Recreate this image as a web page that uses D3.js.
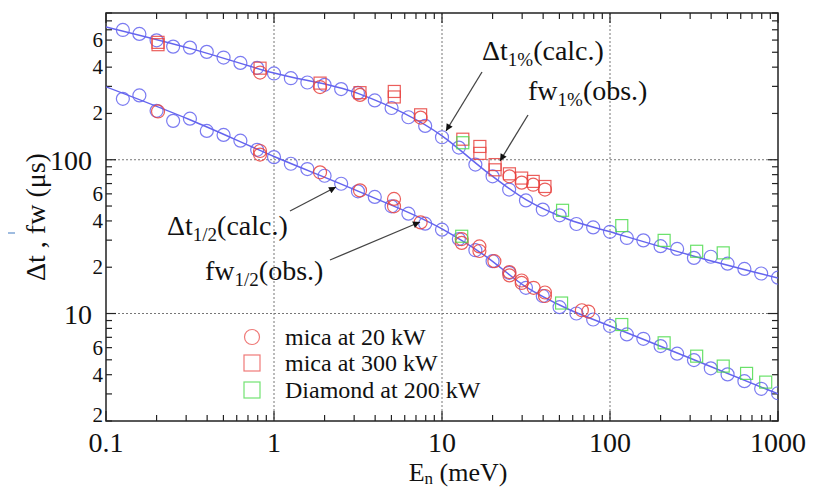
<!DOCTYPE html>
<html>
<head>
<meta charset="utf-8">
<script src="https://cdn.jsdelivr.net/npm/d3@7"></script>
<style>
  body { margin: 0; background: #fff; }
  svg { display: block; }
</style>
</head>
<body>
<div id="chart"></div>
<script>
// calculated points, every 0.1 decade (meV)
const energy = [0.126, 0.158, 0.2, 0.251, 0.316, 0.398, 0.501, 0.631, 0.794, 1,
  1.26, 1.58, 2, 2.51, 3.16, 3.98, 5.01, 6.31, 7.94, 10,
  12.6, 15.8, 20, 25.1, 31.6, 39.8, 50.1, 63.1, 79.4, 100,
  126, 158, 200, 251, 316, 398, 501, 631, 794, 1000];
const dt1pct = [698, 658, 598, 544, 536, 503, 462, 426, 396, 364,
  339, 318, 307, 288, 272, 243, 217, 189, 166, 140,
  120, 93, 78, 64, 54.4, 47.4, 43.5, 38.2, 36.3, 34.0,
  31.0, 29.9, 27.4, 26.3, 23.0, 23.4, 21.1, 19.5, 18.2, 17.1];
const dtHalf = [249, 262, 208, 179, 185, 154, 145, 133, 116, 104,
  94.2, 87.0, 78.7, 69.8, 62.3, 57.3, 49.8, 44.6, 38.4, 35.1,
  30.5, 25.8, 21.9, 18.4, 14.7, 13.0, 11.0, 10.0, 9.14, 8.3,
  7.31, 6.85, 6.14, 5.48, 4.98, 4.40, 4.02, 3.63, 3.24, 3.03];

// smooth calc curves
const curveE     = [0.1, 0.316, 1, 3.16, 10, 17.8, 31.6, 56.2, 100, 316, 1000];
const curve1pct  = [731, 530, 366, 270, 143, 86, 55, 41, 34, 23.6, 17];
const curveHalf  = [298, 182, 105, 62.5, 35.5, 24, 14.9, 10.7, 8.3, 5.0, 3.0];

// observed
const mica20E = [0.826, 1.88, 3.25, 7.46, 25.2, 29.8, 34.9, 41,
  0.204, 0.826, 0.826, 1.88, 3.25, 5.18, 5.18, 7.46, 13.1, 13.1, 16.7, 16.7,
  20.5, 25.2, 25.2, 29.8, 29.8, 35.1, 41, 41, 68, 74.3];
const mica20V = [369, 297, 264, 188, 78, 71, 68.8, 64,
  206, 114, 108, 82.8, 63.2, 55.6, 49.8, 39.1, 30.5, 28.8, 27.3, 25.5,
  21.9, 18.6, 17.7, 16.4, 15.8, 14.7, 13.7, 13.0, 10.5, 10.3];
const mica300E = [0.204, 0.204, 0.826, 1.88, 3.25, 5.2, 5.2, 7.46, 13.3,
  16.8, 16.8, 20.7, 20.7, 25.2, 29.8, 34.9, 41];
const mica300V = [580, 560, 394, 315, 273, 278, 256, 196, 136,
  122, 110, 93, 86, 81, 76, 72.3, 67];
const diamondE = [13.3, 52.2, 117.5, 210, 328, 472,
  13.1, 51.5, 117.5, 210, 328, 472, 650, 845];
const diamondV = [129, 46.9, 37.3, 29.9, 25.4, 24.8,
  31.8, 11.7, 8.48, 6.45, 5.28, 4.55, 4.08, 3.58];

const legendLabels = ["mica at 20 kW", "mica at 300 kW", "Diamond at 200 kW"];
const xLabels = [0.1, 1, 10, 100, 1000];

const width = 830, height = 489;
const margin = { top: 13, right: 52, bottom: 68, left: 106 };
const iw = width - margin.left - margin.right;
const ih = height - margin.top - margin.bottom;

const blue = "#6464ee", red = "#e8423e", green = "#4fdc4f";
const serif = "'Liberation Serif', 'Times New Roman', Times, 'DejaVu Serif', serif";

const svg = d3.select("#chart").append("svg")
  .attr("width", width).attr("height", height)
  .attr("font-family", serif)
  .style("font-family", serif);

const x = d3.scaleLog().domain([0.1, 1000]).range([0, iw]);
const y = d3.scaleLog().domain([2, 900]).range([ih, 0]);

const g = svg.append("g").attr("transform", `translate(${margin.left},${margin.top})`);

const defs = svg.append("defs");
defs.append("clipPath").attr("id", "clip")
  .append("rect").attr("width", iw).attr("height", ih);

// dotted grid at decades
const lg = v => Math.abs(Math.log10(v) - Math.round(Math.log10(v))) < 1e-6;
g.selectAll(".gx").data([1, 10, 100]).join("line")
  .attr("x1", d => x(d)).attr("x2", d => x(d)).attr("y1", 0).attr("y2", ih)
  .attr("stroke", "#777").attr("stroke-width", 1).attr("stroke-dasharray", "2,2");
g.selectAll(".gy").data([10, 100]).join("line")
  .attr("y1", d => y(d)).attr("y2", d => y(d)).attr("x1", 0).attr("x2", iw)
  .attr("stroke", "#777").attr("stroke-width", 1).attr("stroke-dasharray", "2,2");

// ticks (inward on all four sides)
const xt = x.ticks();
const yt = y.ticks();
const tk = g.append("g").attr("stroke", "#222").attr("stroke-width", 1.2);
xt.forEach(d => {
  const len = lg(d) ? 10 : 6;
  tk.append("line").attr("x1", x(d)).attr("x2", x(d)).attr("y1", ih).attr("y2", ih - len);
  tk.append("line").attr("x1", x(d)).attr("x2", x(d)).attr("y1", 0).attr("y2", len);
});
yt.forEach(d => {
  const len = lg(d) ? 10 : 6;
  tk.append("line").attr("y1", y(d)).attr("y2", y(d)).attr("x1", 0).attr("x2", len);
  tk.append("line").attr("y1", y(d)).attr("y2", y(d)).attr("x1", iw).attr("x2", iw - len);
});

// frame
g.append("rect").attr("width", iw).attr("height", ih)
  .attr("fill", "none").attr("stroke", "#222").attr("stroke-width", 1.5);

// tick labels
g.selectAll(".xl").data(xLabels).join("text")
  .attr("x", d => x(d)).attr("y", ih + 31)
  .attr("text-anchor", "middle").attr("fill", "#111").style("font-size", "28px")
  .text(d => d);

yt.forEach(d => {
  const lead = Math.round(d / Math.pow(10, Math.floor(Math.log10(d) + 1e-9)));
  if (lg(d) && d >= 10) {
    g.append("text").attr("x", -14).attr("y", y(d) + 10)
      .attr("text-anchor", "end").attr("fill", "#111").style("font-size", "28px").text(d);
  } else if ([2, 4, 6].includes(lead)) {
    // bottom label nudged up so it clears the x labels
    const dy = d === y.domain()[0] ? 1 : 7;
    g.append("text").attr("x", -3).attr("y", y(d) + dy)
      .attr("text-anchor", "end").attr("fill", "#111").style("font-size", "21px").text(lead);
  }
});

// axis titles
const xt2 = svg.append("text").attr("x", 458).attr("y", 481)
  .attr("text-anchor", "middle").attr("fill", "#111").style("font-size", "26px");
xt2.append("tspan").text("E");
xt2.append("tspan").attr("dy", 3).style("font-size", "17px").text("n");
xt2.append("tspan").attr("dy", -3).text(" (meV)");

svg.append("text")
  .attr("transform", "translate(45,217) rotate(-90)")
  .attr("text-anchor", "middle").attr("fill", "#111").style("font-size", "28px")
  .text("\u0394t , fw (\u03bcs)");

svg.append("line").attr("x1", 8).attr("x2", 15).attr("y1", 233).attr("y2", 233)
  .attr("stroke", "#7fa6d6").attr("stroke-width", 1.5);

// plotted data
const plot = g.append("g").attr("clip-path", "url(#clip)");

const line = d3.line()
  .x(d => x(d[0])).y(d => y(d[1]))
  .curve(d3.curveMonotoneX);

[curve1pct, curveHalf].forEach(vals => {
  plot.append("path")
    .datum(curveE.map((e, i) => [e, vals[i]]))
    .attr("d", line)
    .attr("fill", "none").attr("stroke", blue).attr("stroke-width", 1.5);
});

const circles = (es, vs, colour) => {
  plot.append("g").selectAll("circle")
    .data(es.map((e, i) => [e, vs[i]]))
    .join("circle")
      .attr("cx", d => x(d[0])).attr("cy", d => y(d[1])).attr("r", 6.5)
      .attr("fill", "none").attr("stroke", colour).attr("stroke-width", 1.2)
      .attr("stroke-opacity", 0.85);
};
const squares = (es, vs, colour) => {
  plot.append("g").selectAll("rect")
    .data(es.map((e, i) => [e, vs[i]]))
    .join("rect")
      .attr("x", d => x(d[0]) - 6).attr("y", d => y(d[1]) - 6)
      .attr("width", 12).attr("height", 12)
      .attr("fill", "none").attr("stroke", colour).attr("stroke-width", 1.2)
      .attr("stroke-opacity", 0.85);
};

circles(energy, dt1pct, blue);
circles(energy, dtHalf, blue);
squares(mica300E, mica300V, red);
circles(mica20E, mica20V, red);
squares(diamondE, diamondV, green);

// legend
const leg = svg.append("g");
const legY = [337, 363, 390];
leg.append("circle").attr("cx", 252).attr("cy", legY[0]).attr("r", 7.5)
  .attr("fill", "none").attr("stroke", red).attr("stroke-opacity", 0.7).attr("stroke-width", 1.2);
leg.append("rect").attr("x", 244).attr("y", legY[1] - 8).attr("width", 16).attr("height", 16)
  .attr("fill", "none").attr("stroke", red).attr("stroke-opacity", 0.7).attr("stroke-width", 1.2);
leg.append("rect").attr("x", 244).attr("y", legY[2] - 8).attr("width", 16).attr("height", 16)
  .attr("fill", "none").attr("stroke", green).attr("stroke-opacity", 0.8).attr("stroke-width", 1.2);
leg.selectAll("text").data(legendLabels).join("text")
  .attr("x", 285).attr("y", (d, i) => legY[i] + 8)
  .attr("fill", "#111").style("font-size", "24px").text(d => d);

// annotations
defs.append("marker").attr("id", "arr").attr("viewBox", "0 0 10 10")
  .attr("refX", 10).attr("refY", 5).attr("markerWidth", 9).attr("markerHeight", 7)
  .attr("orient", "auto").attr("markerUnits", "userSpaceOnUse")
  .append("path").attr("d", "M0,0 L10,5 L0,10 Z").attr("fill", "#111");

const arrows = [
  [482, 72, 446, 131],
  [528, 115, 500, 161],
  [290, 211, 336, 187],
  [330, 260, 420, 222]
];
svg.selectAll(".arrow").data(arrows).join("line")
  .attr("x1", d => d[0]).attr("y1", d => d[1]).attr("x2", d => d[2]).attr("y2", d => d[3])
  .attr("stroke", "#444").attr("stroke-width", 1.3).attr("marker-end", "url(#arr)");

const label = (lx, ly, main, sub, rest) => {
  const t = svg.append("text").attr("x", lx).attr("y", ly)
    .attr("fill", "#111").style("font-size", "28px");
  t.append("tspan").text(main);
  t.append("tspan").attr("dy", 6).style("font-size", "19px").text(sub);
  t.append("tspan").attr("dy", -6).text(rest);
};
label(482, 60, "\u0394t", "1%", "(calc.)");
label(528, 100, "fw", "1%", "(obs.)");
label(167, 235, "\u0394t", "1/2", "(calc.)");
label(205, 280, "fw", "1/2", "(obs.)");
</script>
</body>
</html>
